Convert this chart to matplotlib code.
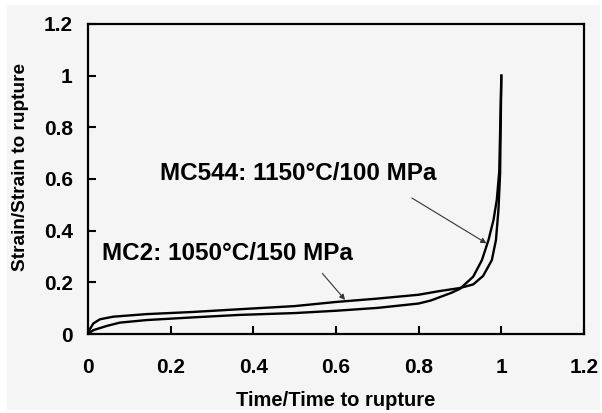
import matplotlib
matplotlib.use("Agg")
import matplotlib.pyplot as plt
from matplotlib.patches import Rectangle

# MC2: 1050C/150 MPa (upper on the plateau, right branch near rupture)
t_mc2 = [0, 0.005, 0.013, 0.029, 0.061, 0.142, 0.25, 0.368, 0.5, 0.6, 0.7, 0.8,
         0.85, 0.9, 0.932, 0.956, 0.977, 0.987, 0.993, 0.997, 1.0]
e_mc2 = [0, 0.02, 0.041, 0.057, 0.067, 0.077, 0.085, 0.096, 0.108, 0.124, 0.137,
         0.152, 0.166, 0.178, 0.192, 0.225, 0.286, 0.364, 0.48, 0.62, 1.0]

# MC544: 1150C/100 MPa (lower on the plateau, left branch near rupture)
t_mc544 = [0, 0.013, 0.045, 0.077, 0.142, 0.25, 0.368, 0.5, 0.6, 0.7, 0.8, 0.83,
           0.86, 0.88, 0.9, 0.932, 0.953, 0.969, 0.981, 0.989, 0.995, 1.0]
e_mc544 = [0, 0.015, 0.031, 0.044, 0.054, 0.064, 0.074, 0.081, 0.090, 0.101, 0.118,
           0.130, 0.148, 0.160, 0.175, 0.222, 0.286, 0.364, 0.441, 0.519, 0.63, 1.0]

ticks = [0, 0.2, 0.4, 0.6, 0.8, 1, 1.2]
tick_labels = ["0", "0.2", "0.4", "0.6", "0.8", "1", "1.2"]

plt.rcParams['font.family'] = ['Liberation Sans', 'DejaVu Sans']

fig = plt.figure(figsize=(6.02, 4.13), dpi=100, facecolor="white")
fig.patches.append(Rectangle((7/602, 3/413), 593/602, 405/413, transform=fig.transFigure,
                             facecolor="#f5f5f5", edgecolor="none", zorder=-10))
ax = fig.add_axes([88/602, 1 - 334/413, 496/602, 310/413])
ax.set_facecolor("#f5f5f5")

ax.plot(t_mc2, e_mc2, color="black", lw=1.7)
ax.plot(t_mc544, e_mc544, color="black", lw=1.7)

ax.set_xlim(0, 1.2)
ax.set_ylim(0, 1.2)
ax.set_xticks(ticks)
ax.set_xticklabels(tick_labels, fontsize=15, fontweight="bold")
ax.set_yticks(ticks)
ax.set_yticklabels(tick_labels, fontsize=15, fontweight="bold")
ax.tick_params(axis="x", direction="in", length=6, width=1.5, pad=17, top=False)
ax.tick_params(axis="y", direction="in", length=6, width=1.5, pad=11, right=False)
for s in ax.spines.values():
    s.set_linewidth(1.6)

ax.set_xlabel("Time/Time to rupture", fontsize=14.5, fontweight="bold")
ax.set_ylabel("Strain/Strain to rupture", fontsize=13.7, fontweight="bold")
ax.xaxis.set_label_coords(0.5, -(400 - 334) / 310, transform=ax.transAxes)
ax.yaxis.set_label_coords(-(88 - 20) / 496, (334 - 167) / 310, transform=ax.transAxes)
ax.xaxis.label.set_va("center")
ax.yaxis.label.set_va("center")

ax.annotate("MC544: 1150°C/100 MPa", xy=(0.964, 0.351), xytext=(0.175, 0.62),
            fontsize=17.5, fontweight="bold", va="center",
            arrowprops=dict(arrowstyle="-|>", color="#333333", lw=0.8,
                            mutation_scale=8, shrinkA=0, shrinkB=0,
                            relpos=(0.91, -0.55)))
ax.annotate("MC2: 1050°C/150 MPa", xy=(0.622, 0.132), xytext=(0.033, 0.31),
            fontsize=17.5, fontweight="bold", va="center",
            arrowprops=dict(arrowstyle="-|>", color="#333333", lw=0.8,
                            mutation_scale=8, shrinkA=0, shrinkB=0,
                            relpos=(0.88, -0.35)))

fig.savefig("out.png", dpi=100, facecolor=fig.get_facecolor())
